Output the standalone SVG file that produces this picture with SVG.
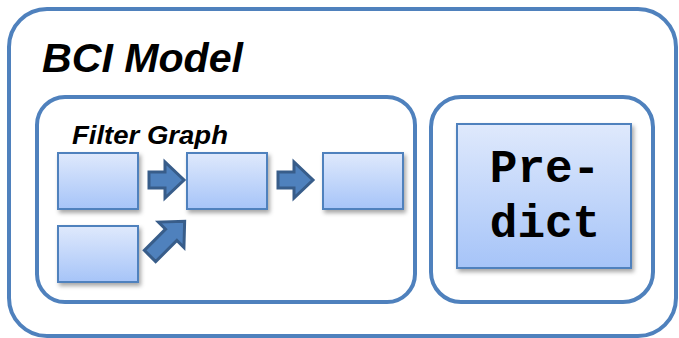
<svg xmlns="http://www.w3.org/2000/svg" width="679" height="338" viewBox="0 0 679 338">
<style>
.container{fill:#ffffff;stroke:#4f81bd;stroke-width:4}
.box{fill:url(#boxGrad);stroke:#4f81bd;stroke-width:2;filter:url(#shadow)}
.arrow{fill:#4f81bd;stroke:#385d8a;stroke-width:3;stroke-linejoin:miter}
.title{font-family:"Liberation Sans",Arial,sans-serif;font-weight:bold;font-style:italic;fill:#000}
.mono{font-family:"Liberation Mono","Courier New",monospace;font-weight:bold;font-size:46px;fill:#000;text-anchor:middle}
</style>
<defs>
<linearGradient id="boxGrad" x1="0" y1="0" x2="0" y2="1">
<stop offset="0" stop-color="#dfe9fc"/>
<stop offset="1" stop-color="#a6c4f8"/>
</linearGradient>
<filter id="shadow" x="-20%" y="-20%" width="150%" height="150%">
<feDropShadow dx="2" dy="3" stdDeviation="2" flood-color="#000" flood-opacity="0.35"/>
</filter>
<path id="harrow" d="M0,-8 L16,-8 L16,-18 L35,0 L16,18 L16,8 L0,8 Z"/>
</defs>
<g id="bci-model">
<rect class="container" x="9" y="9" width="667" height="327" rx="38" ry="38"/>
<text class="title" x="42" y="72" font-size="40" textLength="201" lengthAdjust="spacingAndGlyphs">BCI Model</text>
</g>
<g id="filter-graph">
<rect class="container" x="37" y="97" width="378" height="205" rx="28" ry="28"/>
<text class="title" x="72" y="144" font-size="25" textLength="156" lengthAdjust="spacingAndGlyphs">Filter Graph</text>
</g>
<g id="node-a"><rect class="box" x="58" y="153" width="80" height="56"/></g>
<g id="node-b"><rect class="box" x="58" y="226" width="80" height="56"/></g>
<g id="node-c"><rect class="box" x="187" y="153" width="80" height="56"/></g>
<g id="node-d"><rect class="box" x="323" y="153" width="80" height="56"/></g>
<g id="predict-container">
<rect class="container" x="431" y="97" width="222" height="205" rx="30" ry="30"/>
</g>
<g id="predict">
<rect class="box" x="457" y="124" width="174" height="144"/>
<text class="mono" x="545" y="182">Pre-</text>
<text class="mono" x="545" y="237">dict</text>
</g>
<g id="connectors">
<use href="#harrow" class="arrow" transform="translate(149,180)"/>
<use href="#harrow" class="arrow" transform="translate(278,180)"/>
<path class="arrow" d="M0,-8 L30,-8 L30,-18 L49,0 L30,18 L30,8 L0,8 Z" transform="translate(150,256) rotate(-45)"/>
</g>
</svg>
